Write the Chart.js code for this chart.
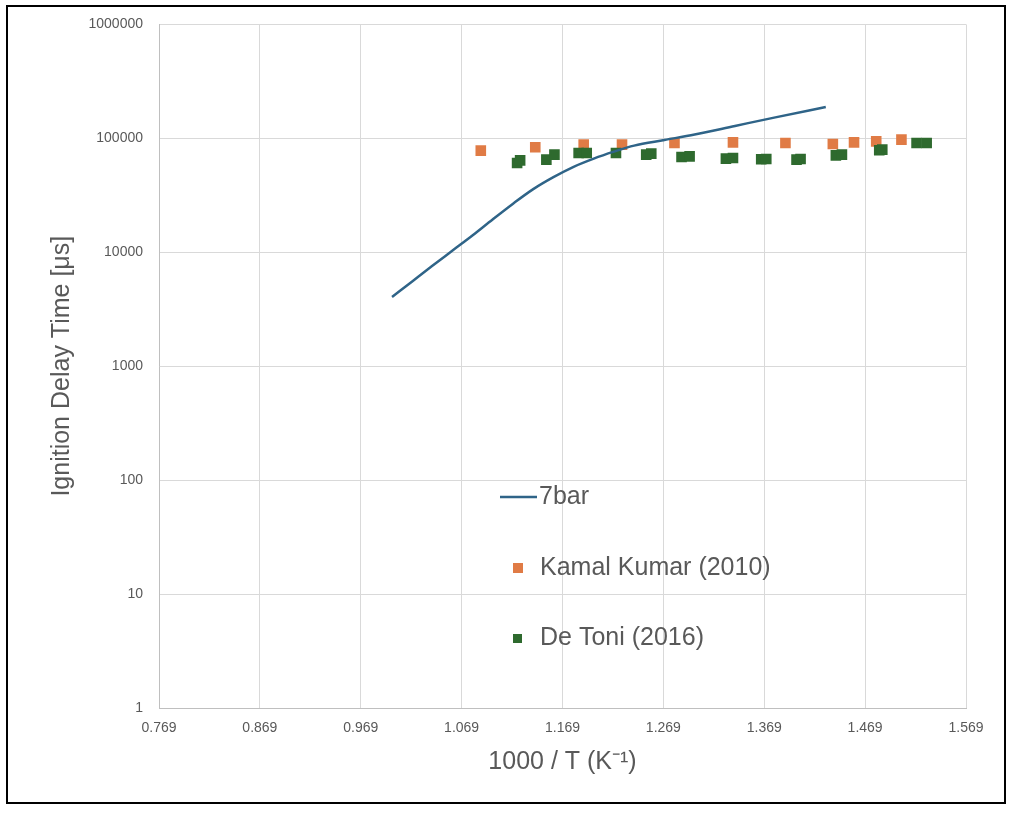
<!DOCTYPE html>
<html>
<head>
<meta charset="utf-8">
<script src="https://cdn.jsdelivr.net/npm/chart.js@4.4.1/dist/chart.umd.min.js"></script>
<style>
  html, body { margin: 0; padding: 0; background: #fff; }
  #wrap { position: relative; width: 1014px; height: 814px; }
  #frame {
    position: absolute; left: 6px; top: 5px; width: 996px; height: 795px;
    border: 2px solid #000; pointer-events: none;
  }
</style>
</head>
<body>
<div id="wrap">
  <canvas id="idtChart" width="1014" height="814"></canvas>
  <div id="frame"></div>
</div>
<script>
// simulation curve, 7 bar
const lineX = [1.00, 1.02, 1.04, 1.06, 1.08, 1.10, 1.12, 1.14, 1.16, 1.18, 1.20, 1.22, 1.24, 1.27, 1.30, 1.34, 1.38, 1.43];
const lineY = [4050, 5550, 7600, 10350, 14100, 19500, 26700, 35800, 45600, 56200, 66400, 76400, 86300, 96600, 108000, 128500, 152800, 188400];

// Kamal Kumar (2010)
const kumarX = [1.088, 1.142, 1.190, 1.228, 1.280, 1.338, 1.390, 1.437, 1.458, 1.480, 1.505];
const kumarY = [78000, 83400, 88100, 88100, 91000, 92200, 91000, 89100, 92200, 94100, 97400];

// De Toni (2016)
const detoniX = [1.124, 1.127, 1.153, 1.161, 1.185, 1.193, 1.222, 1.252, 1.257, 1.287, 1.295, 1.331, 1.338, 1.366, 1.371, 1.401, 1.405, 1.440, 1.446, 1.483, 1.486, 1.520, 1.530];
const detoniY = [60800, 64100, 65000, 71900, 74300, 74300, 74300, 71900, 73400, 68600, 69500, 66400, 67200, 65500, 65900, 65000, 65900, 70900, 71900, 78500, 79600, 91000, 91000];

// axis ticks
const xTicks = [0.769, 0.869, 0.969, 1.069, 1.169, 1.269, 1.369, 1.469, 1.569];
const yTicks = [1, 10, 100, 1000, 10000, 100000, 1000000];

const lineColor = "#2F6488";
const orange = "#E07B45";
const green = "#2E6A2E";
const textColor = "#595959";
const gridColor = "#D9D9D9";
const fontFamily = "'Liberation Sans', Arial, sans-serif";

function pairs(xs, ys) {
  return xs.map((x, i) => ({ x: x, y: ys[i] }));
}

// legend drawn inside the plot, like the Excel one
const insideLegend = {
  id: "insideLegend",
  afterDraw(chart) {
    const ctx = chart.ctx;
    ctx.save();
    ctx.font = "25px " + fontFamily;
    ctx.textBaseline = "middle";
    ctx.textAlign = "left";

    // 7bar
    ctx.strokeStyle = lineColor;
    ctx.lineWidth = 2.5;
    ctx.beginPath();
    ctx.moveTo(500, 497);
    ctx.lineTo(537, 497);
    ctx.stroke();
    ctx.fillStyle = textColor;
    ctx.fillText("7bar", 539, 497);

    // Kamal Kumar
    ctx.fillStyle = orange;
    ctx.fillRect(513, 563, 10, 10);
    ctx.fillStyle = textColor;
    ctx.fillText("Kamal Kumar (2010)", 540, 568);

    // De Toni
    ctx.fillStyle = green;
    ctx.fillRect(513, 634, 9, 9);
    ctx.fillStyle = textColor;
    ctx.fillText("De Toni (2016)", 540, 638);
    ctx.restore();
  }
};

const canvas = document.getElementById("idtChart");

new Chart(canvas, {
  type: "scatter",
  data: {
    datasets: [
      {
        label: "7bar",
        data: pairs(lineX, lineY),
        showLine: true,
        borderColor: lineColor,
        borderWidth: 2.5,
        pointRadius: 0,
        cubicInterpolationMode: "monotone",
        order: 0,
      },
      {
        label: "Kamal Kumar (2010)",
        data: pairs(kumarX, kumarY),
        pointStyle: "rect",
        pointRadius: 7.5,
        backgroundColor: orange,
        borderColor: orange,
        borderWidth: 0,
        order: 2,
      },
      {
        label: "De Toni (2016)",
        data: pairs(detoniX, detoniY),
        pointStyle: "rect",
        pointRadius: 7.5,
        backgroundColor: green,
        borderColor: green,
        borderWidth: 0,
        order: 1,
      },
    ],
  },
  options: {
    responsive: false,
    animation: false,
    layout: { padding: { left: 10, right: 48, top: 24, bottom: 10 } },
    plugins: {
      legend: { display: false },
      tooltip: { enabled: false },
    },
    scales: {
      x: {
        type: "linear",
        min: 0.769,
        max: 1.569,
        afterBuildTicks: (scale) => {
          scale.ticks = xTicks.map((v) => ({ value: v }));
        },
        afterFit: (scale) => { scale.height = 96; },
        ticks: {
          color: textColor,
          font: { family: fontFamily, size: 14 },
          padding: 12,
          maxRotation: 0,
          callback: (v) => Number(v).toFixed(3),
        },
        grid: { color: gridColor, drawTicks: false },
        border: { color: "#BFBFBF" },
        title: {
          display: true,
          text: "1000 / T (K\u207B\u00B9)",
          color: textColor,
          font: { family: fontFamily, size: 25 },
          padding: { top: 0, bottom: 27 },
        },
      },
      y: {
        type: "logarithmic",
        min: 1,
        max: 1000000,
        afterBuildTicks: (scale) => {
          scale.ticks = yTicks.map((v) => ({ value: v }));
        },
        afterFit: (scale) => { scale.width = 149; },
        ticks: {
          color: textColor,
          font: { family: fontFamily, size: 14 },
          padding: 16,
          callback: (v) => String(v),
        },
        grid: { color: gridColor, drawTicks: false },
        border: { color: "#BFBFBF" },
        title: {
          display: true,
          text: "Ignition Delay Time [\u03BCs]",
          color: textColor,
          font: { family: fontFamily, size: 25 },
          padding: { top: 37, bottom: 0 },
        },
      },
    },
  },
  plugins: [insideLegend],
});
</script>
</body>
</html>
